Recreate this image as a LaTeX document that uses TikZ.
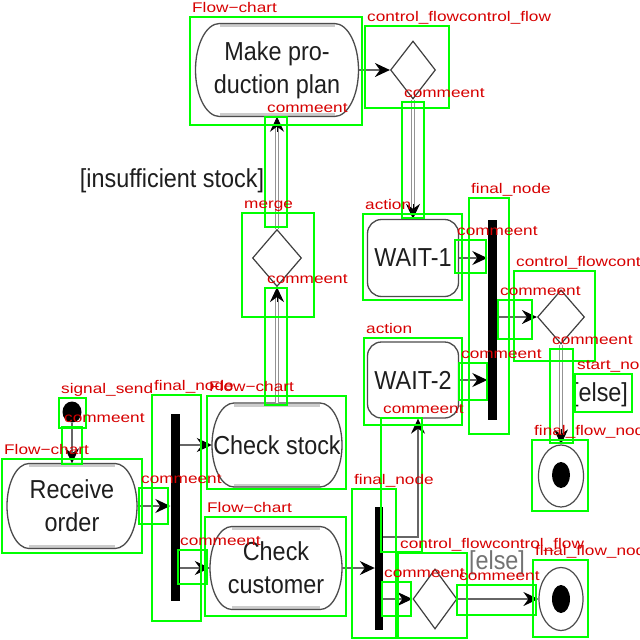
\documentclass[tikz,border=0pt]{standalone}
\usepackage{fontspec}
\setmainfont{Liberation Sans}
\newfontfamily\dfont[FakeStretch=0.9]{Liberation Sans}
\newfontfamily\lfont[FakeStretch=1.23]{Liberation Sans}
\usetikzlibrary{arrows.meta,shapes.geometric}
\definecolor{gboxc}{RGB}{0,255,0}
\definecolor{lred}{RGB}{215,0,0}
\definecolor{ink}{RGB}{30,30,30}
% cx cy halfwidth halfheight rx
\newcommand{\stadiumat}[5]{%
  \draw[gray!40, line width=3pt] ({#1-#3+#5},{#2-#4+2}) -- ({#1+#3-#5},{#2-#4+2});
  \draw[gray!40, line width=3pt] ({#1-#3+#5},{#2+#4-2}) -- ({#1+#3-#5},{#2+#4-2});
  \draw[stadline] ({#1-#3+#5},{#2-#4}) -- ({#1+#3-#5},{#2-#4})
    arc[start angle=90,end angle=-90,x radius=#5pt,y radius=#4pt] -- ({#1-#3+#5},{#2+#4})
    arc[start angle=270,end angle=90,x radius=#5pt,y radius=#4pt] -- cycle;}
\newcommand{\grbox}[4]{\draw[gb] (#1,#2) rectangle (#3,#4);}
\newcommand{\rdlab}[4]{\node[lbl] (#4) at (#1+2,#2-5) {#3};}
\begin{document}
\begin{tikzpicture}[x=1pt,y=-1pt,
  stadline/.style={draw=black!70, line width=1.3pt},
  txt/.style={font=\dfont\fontsize{26}{33}\selectfont, text=ink, align=center, inner sep=0pt},
  waitbox/.style={draw=black!70, line width=1.3pt, rounded corners=14pt, minimum width=91pt, minimum height=77pt, font=\dfont\fontsize{26}{33}\selectfont, text=ink, inner sep=0pt},
  dmd/.style={diamond, draw=black!75, line width=1.2pt, inner sep=0pt},
  barnode/.style={fill=black, inner sep=0pt},
  finring/.style={ellipse, draw=black!70, line width=1.2pt, inner sep=0pt},
  findot/.style={ellipse, fill=black, inner sep=0pt},
  arr/.style={draw=black!60, line width=1.4pt, -{Stealth[length=15pt,width=14pt,inset=5pt,black]}},
  dbl/.style={draw=gray!85, line width=0.9pt, double=white, double distance=2pt},
  tipline/.style={draw=black, line width=1pt, -{Stealth[length=15pt,width=14pt,inset=5pt,black]}},
  gb/.style={draw=gboxc, line width=2pt},
  lbl/.style={font=\lfont\fontsize{14}{16}\selectfont, text=lred, inner sep=0pt, anchor=base west}]
\useasboundingbox (0,0) rectangle (640,640);
\clip (0,0) rectangle (640,640);
\fill[white] (0,0) rectangle (640,640);

% ---- diagram nodes ----
\node[txt, minimum width=163pt, minimum height=93pt] (mpp) at (277,70) {Make pro-\\duction plan};
\stadiumat{277}{70}{81.5}{46.5}{24}
\node[dmd, minimum width=45pt, minimum height=58pt] (dtop) at (413,70) {};
\node[txt] (ins) at (172,181) {[insufficient stock]};
\node[dmd, minimum width=49pt, minimum height=57pt] (merge) at (277,258) {};
\node[waitbox] (wait1) at (413,258) {WAIT-1};
\node[waitbox, minimum height=76pt] (wait2) at (413,380) {WAIT-2};
\node[barnode, minimum width=9pt, minimum height=200pt] (jbar) at (492,320) {};
\node[dmd, minimum width=47pt, minimum height=54pt] (dtwo) at (561,317) {};
\node[txt] (else1) at (600,395) {[else]};
\node[finring, minimum width=45pt, minimum height=62pt] (fin1) at (561,476) {};
\node[findot, minimum width=18pt, minimum height=26pt] (dot1) at (561,475) {};
\node[findot, minimum width=19pt, minimum height=21pt] (start) at (72,412) {};
\node[txt, minimum width=130pt, minimum height=85pt] (recv) at (72,506) {Receive\\order};
\stadiumat{72}{506}{65}{42.5}{22}
\node[barnode, minimum width=9pt, minimum height=187pt] (fbar1) at (175,507) {};
\node[txt, minimum width=130pt, minimum height=84pt] (chks) at (277,445) {Check stock};
\stadiumat{277}{445}{65}{42}{22}
\node[txt, minimum width=132pt, minimum height=83pt] (chkc) at (276,568) {Check\\customer};
\stadiumat{276}{568}{66}{41.5}{22}
\node[barnode, minimum width=8pt, minimum height=123pt] (fbar2) at (379,568) {};
\node[dmd, minimum width=44pt, minimum height=60pt] (dthree) at (435,599) {};
\node[txt, text=black!55] (else2) at (497,563) {[else]};
\node[finring, minimum width=44pt, minimum height=63pt] (fin2) at (561,599) {};
\node[findot, minimum width=18pt, minimum height=28pt] (dot2) at (561,599) {};

% ---- connectors ----
\draw[arr] (mpp.east) -- (dtop.west);
\coordinate (w1top) at (dtop.south |- wait1.north);
\draw[dbl] (dtop.south) -- ([yshift=10pt]w1top);
\draw[tipline] ([yshift=15pt]w1top) -- (w1top);
\draw[dbl] (merge.north) -- ([yshift=-10pt]mpp.south);
\draw[tipline] ([yshift=-15pt]mpp.south) -- (mpp.south);
\draw[dbl] (chks.north) -- ([yshift=-10pt]merge.south);
\draw[tipline] ([yshift=-15pt]merge.south) -- (merge.south);
\draw[arr] (wait1.east) -- (wait1.east -| jbar.west);
\draw[arr] (wait2.east) -- (wait2.east -| jbar.west);
\draw[arr] (jbar.east |- dtwo.west) -- (dtwo.west);
\draw[dbl] (dtwo.south) -- ([yshift=10pt]fin1.north);
\draw[tipline] ([yshift=15pt]fin1.north) -- (fin1.north);
\draw[arr] (start.south) -- (recv.north);
\draw[arr] (recv.east) -- (recv.east -| fbar1.west);
\draw[arr] (fbar1.east |- chks.west) -- (chks.west);
\draw[arr] (fbar1.east |- chkc.west) -- (chkc.west);
\draw[arr] (chkc.east) -- (chkc.east -| fbar2.west);
\draw[arr] ([yshift=31pt]fbar2.east) -| ([xshift=5pt]wait2.south);
\draw[arr] (fbar2.east |- dthree.west) -- (dthree.west);
\draw[arr] (dthree.east) -- (fin2.west);

% ---- green annotation boxes ----
\grbox{190}{17}{362}{125}
\grbox{365}{26}{449}{108}
\grbox{402}{102}{424}{218}
\grbox{469}{198}{509}{434}
\grbox{363}{214}{462}{300}
\grbox{455}{240}{486}{273}
\grbox{514}{271}{595}{361}
\grbox{498}{300}{532}{339}
\grbox{364}{338}{462}{425}
\grbox{459}{363}{487}{400}
\grbox{550}{349}{573}{443}
\grbox{575}{374}{632}{412}
\grbox{532}{440}{588}{511}
\grbox{59}{398}{86}{428}
\grbox{62}{427}{82}{464}
\grbox{2}{459}{142}{553}
\grbox{152}{395}{201}{621}
\grbox{207}{396}{346}{489}
\grbox{265}{288}{287}{405}
\grbox{242}{213}{314}{317}
\grbox{265}{117}{287}{227}
\grbox{139}{488}{168}{524}
\grbox{178}{550}{207}{584}
\grbox{205}{517}{346}{616}
\grbox{352}{489}{396}{638}
\grbox{381}{418}{422}{552}
\grbox{398}{553}{467}{638}
\grbox{382}{582}{411}{616}
\grbox{457}{585}{536}{615}
\grbox{533}{560}{588}{637}

% ---- red labels ----
\rdlab{190}{17}{Flow−chart}{lab1}
\rdlab{365}{26}{control\_flowcontrol\_flow}{lab2}
\rdlab{402}{102}{commeent}{lab3}
\rdlab{469}{198}{final\_node}{lab4}
\rdlab{363}{214}{action}{lab5}
\rdlab{455}{240}{commeent}{lab6}
\rdlab{514}{271}{control\_flowcontrol\_flow}{lab7}
\rdlab{498}{300}{commeent}{lab8}
\rdlab{364}{338}{action}{lab9}
\rdlab{459}{363}{commeent}{lab10}
\rdlab{550}{349}{commeent}{lab11}
\rdlab{575}{374}{start\_node}{lab12}
\rdlab{532}{440}{final\_flow\_node}{lab13}
\rdlab{59}{398}{signal\_send}{lab14}
\rdlab{62}{427}{commeent}{lab15}
\rdlab{2}{459}{Flow−chart}{lab16}
\rdlab{152}{395}{final\_node}{lab17}
\rdlab{207}{396}{Flow−chart}{lab18}
\rdlab{265}{288}{commeent}{lab19}
\rdlab{242}{213}{merge}{lab20}
\rdlab{265}{117}{commeent}{lab21}
\rdlab{139}{488}{commeent}{lab22}
\rdlab{178}{550}{commeent}{lab23}
\rdlab{205}{517}{Flow−chart}{lab24}
\rdlab{352}{489}{final\_node}{lab25}
\rdlab{381}{418}{commeent}{lab26}
\rdlab{398}{553}{control\_flowcontrol\_flow}{lab27}
\rdlab{382}{582}{commeent}{lab28}
\rdlab{457}{585}{commeent}{lab29}
\rdlab{533}{560}{final\_flow\_node}{lab30}
\end{tikzpicture}
\end{document}
